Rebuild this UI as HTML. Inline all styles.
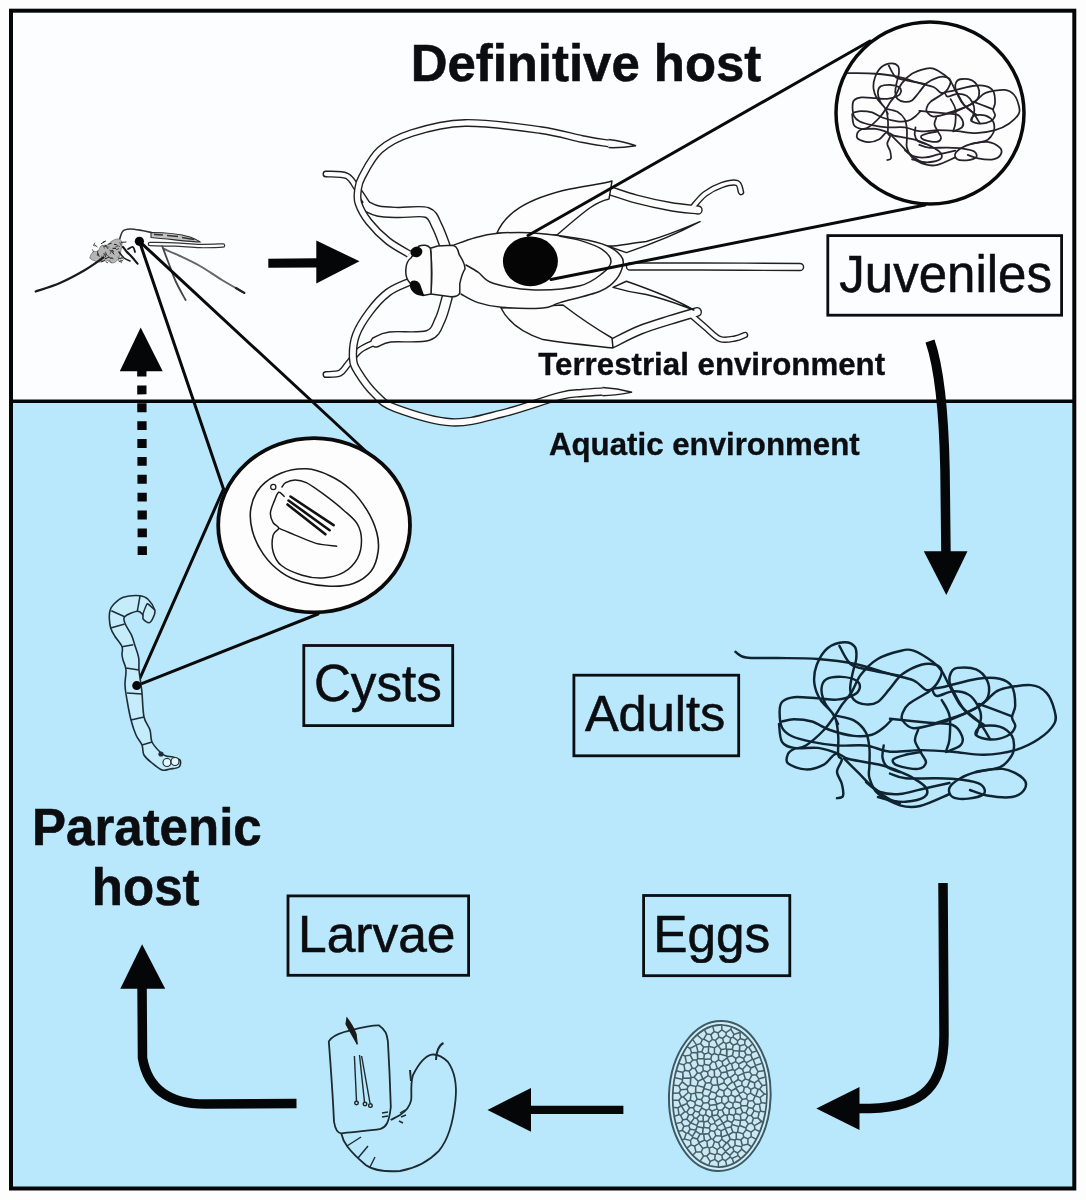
<!DOCTYPE html>
<html><head><meta charset="utf-8">
<style>
html,body{margin:0;padding:0;background:#fdfdfd;width:1086px;height:1200px;overflow:hidden}
svg{display:block}
.t{font-family:"Liberation Sans",sans-serif;fill:#0b0d10;stroke:#0b0d10;stroke-width:1.1px}
</style></head><body>
<svg width="1086" height="1200" viewBox="0 0 1086 1200">
<rect x="0" y="0" width="1086" height="1200" fill="#fdfdfd"/>
<rect x="11" y="11" width="1063" height="390" fill="#fcfdfe"/>
<rect x="11" y="401" width="1063" height="788" fill="#b9e8fc"/>

<g id="cricket"><path d="M326.0,174.0 C329.5,174.3 341.7,173.3 347.0,176.0 C352.3,178.7 354.5,185.2 358.0,190.0 C361.5,194.8 366.3,202.5 368.0,205.0" fill="none" stroke="#202020" stroke-width="7" stroke-linecap="round" stroke-linejoin="round"/><path d="M366.0,206.0 C368.0,206.8 372.7,209.9 378.0,211.0 C383.3,212.1 389.8,212.2 398.0,212.5 C406.2,212.8 420.5,210.2 427.0,212.5 C433.5,214.8 434.0,220.4 437.0,226.0 C440.0,231.6 443.7,242.7 445.0,246.0" fill="none" stroke="#202020" stroke-width="11.5" stroke-linecap="round" stroke-linejoin="round"/><path d="M447.0,298.0 C445.8,301.7 443.2,313.8 440.0,320.0 C436.8,326.2 436.3,332.7 428.0,335.5 C419.7,338.3 398.7,335.9 390.0,337.0 C381.3,338.1 378.3,341.2 376.0,342.0" fill="none" stroke="#202020" stroke-width="11.5" stroke-linecap="round" stroke-linejoin="round"/><path d="M378.0,341.0 C375.0,342.5 365.0,346.2 360.0,350.0 C355.0,353.8 351.3,360.2 348.0,364.0 C344.7,367.8 343.7,371.2 340.0,373.0 C336.3,374.8 328.3,374.2 326.0,374.5" fill="none" stroke="#202020" stroke-width="7" stroke-linecap="round" stroke-linejoin="round"/><path d="M326.0,174.0 C329.5,174.3 341.7,173.3 347.0,176.0 C352.3,178.7 354.5,185.2 358.0,190.0 C361.5,194.8 366.3,202.5 368.0,205.0" fill="none" stroke="#fdfdfd" stroke-width="4.2" stroke-linecap="round" stroke-linejoin="round"/><path d="M366.0,206.0 C368.0,206.8 372.7,209.9 378.0,211.0 C383.3,212.1 389.8,212.2 398.0,212.5 C406.2,212.8 420.5,210.2 427.0,212.5 C433.5,214.8 434.0,220.4 437.0,226.0 C440.0,231.6 443.7,242.7 445.0,246.0" fill="none" stroke="#fdfdfd" stroke-width="8.7" stroke-linecap="round" stroke-linejoin="round"/><path d="M447.0,298.0 C445.8,301.7 443.2,313.8 440.0,320.0 C436.8,326.2 436.3,332.7 428.0,335.5 C419.7,338.3 398.7,335.9 390.0,337.0 C381.3,338.1 378.3,341.2 376.0,342.0" fill="none" stroke="#fdfdfd" stroke-width="8.7" stroke-linecap="round" stroke-linejoin="round"/><path d="M378.0,341.0 C375.0,342.5 365.0,346.2 360.0,350.0 C355.0,353.8 351.3,360.2 348.0,364.0 C344.7,367.8 343.7,371.2 340.0,373.0 C336.3,374.8 328.3,374.2 326.0,374.5" fill="none" stroke="#fdfdfd" stroke-width="4.2" stroke-linecap="round" stroke-linejoin="round"/><path d="M409.0,254.0 C405.5,251.8 394.7,246.3 388.0,241.0 C381.3,235.7 373.9,228.2 369.0,222.0 C364.1,215.8 360.3,208.8 358.5,203.5 C356.7,198.2 357.4,194.4 358.0,190.0 C358.6,185.6 358.3,183.7 362.0,177.0 C365.7,170.3 371.7,157.3 380.0,150.0 C388.3,142.7 397.8,137.5 412.0,133.0 C426.2,128.5 443.7,123.5 465.0,123.0 C486.3,122.5 520.5,127.3 540.0,130.0 C559.5,132.7 570.5,136.7 582.0,139.0 C593.5,141.3 604.5,142.8 609.0,143.6" fill="none" stroke="#202020" stroke-width="8" stroke-linecap="butt" stroke-linejoin="round"/><path d="M409.0,282.0 C405.5,283.8 394.6,287.5 388.0,292.5 C381.4,297.5 374.8,304.9 369.5,312.0 C364.2,319.1 358.8,327.3 356.0,335.0 C353.2,342.7 352.7,351.8 353.0,358.0 C353.3,364.2 354.3,366.0 358.0,372.0 C361.7,378.0 368.8,388.0 375.0,394.0 C381.2,400.0 382.3,403.3 395.0,408.0 C407.7,412.7 433.6,421.4 451.4,422.3 C469.2,423.2 483.9,418.0 502.0,413.6 C520.1,409.2 546.7,399.4 560.0,396.0 C573.3,392.6 574.8,393.7 582.0,393.0 C589.2,392.3 599.5,391.8 603.0,391.6" fill="none" stroke="#202020" stroke-width="8.5" stroke-linecap="butt" stroke-linejoin="round"/><path d="M409.0,254.0 C405.5,251.8 394.7,246.3 388.0,241.0 C381.3,235.7 373.9,228.2 369.0,222.0 C364.1,215.8 360.3,208.8 358.5,203.5 C356.7,198.2 357.4,194.4 358.0,190.0 C358.6,185.6 358.3,183.7 362.0,177.0 C365.7,170.3 371.7,157.3 380.0,150.0 C388.3,142.7 397.8,137.5 412.0,133.0 C426.2,128.5 443.7,123.5 465.0,123.0 C486.3,122.5 520.5,127.3 540.0,130.0 C559.5,132.7 570.5,136.7 582.0,139.0 C593.5,141.3 604.5,142.8 609.0,143.6" fill="none" stroke="#fdfdfd" stroke-width="5.2" stroke-linecap="butt" stroke-linejoin="round"/><path d="M409.0,282.0 C405.5,283.8 394.6,287.5 388.0,292.5 C381.4,297.5 374.8,304.9 369.5,312.0 C364.2,319.1 358.8,327.3 356.0,335.0 C353.2,342.7 352.7,351.8 353.0,358.0 C353.3,364.2 354.3,366.0 358.0,372.0 C361.7,378.0 368.8,388.0 375.0,394.0 C381.2,400.0 382.3,403.3 395.0,408.0 C407.7,412.7 433.6,421.4 451.4,422.3 C469.2,423.2 483.9,418.0 502.0,413.6 C520.1,409.2 546.7,399.4 560.0,396.0 C573.3,392.6 574.8,393.7 582.0,393.0 C589.2,392.3 599.5,391.8 603.0,391.6" fill="none" stroke="#fdfdfd" stroke-width="5.7" stroke-linecap="butt" stroke-linejoin="round"/><path d="M608.5,139.6 C620,141 628,143 636,145.8 C628,147 620,148 608.5,147.6" fill="#fdfdfd" stroke="#202020" stroke-width="1.5"/><path d="M602.5,387.4 C615,388 624,390 632,392.2 C622,394 614,395.5 602.5,395.8" fill="#fdfdfd" stroke="#202020" stroke-width="1.5"/><path d="M630.0,266.5 C641.7,266.5 671.7,266.4 700.0,266.5 C728.3,266.6 783.3,266.9 800.0,267.0" fill="none" stroke="#202020" stroke-width="8.5" stroke-linecap="round" stroke-linejoin="round"/><path d="M611.0,191.0 C615.2,192.3 626.2,196.4 636.0,199.0 C645.8,201.6 659.7,204.7 670.0,206.5 C680.3,208.3 693.3,209.4 698.0,210.0" fill="none" stroke="#202020" stroke-width="9.5" stroke-linecap="round" stroke-linejoin="round"/><path d="M692.0,208.0 C694.2,205.7 700.0,197.8 705.0,194.0 C710.0,190.2 716.7,186.8 722.0,185.0 C727.3,183.2 733.8,181.8 737.0,183.0 C740.2,184.2 740.3,190.5 741.0,192.0" fill="none" stroke="#202020" stroke-width="6.5" stroke-linecap="round" stroke-linejoin="round"/><path d="M613.0,343.0 C617.5,340.8 630.5,333.8 640.0,330.0 C649.5,326.2 660.5,323.0 670.0,320.0 C679.5,317.0 692.5,313.3 697.0,312.0" fill="none" stroke="#202020" stroke-width="10" stroke-linecap="round" stroke-linejoin="round"/><path d="M690.0,314.0 C692.5,316.2 700.0,322.8 705.0,327.0 C710.0,331.2 715.0,337.1 720.0,339.0 C725.0,340.9 730.8,339.2 735.0,338.5 C739.2,337.8 743.3,335.6 745.0,335.0" fill="none" stroke="#202020" stroke-width="6.5" stroke-linecap="round" stroke-linejoin="round"/><path d="M630.0,266.5 C641.7,266.5 671.7,266.4 700.0,266.5 C728.3,266.6 783.3,266.9 800.0,267.0" fill="none" stroke="#fdfdfd" stroke-width="5.7" stroke-linecap="round" stroke-linejoin="round"/><path d="M611.0,191.0 C615.2,192.3 626.2,196.4 636.0,199.0 C645.8,201.6 659.7,204.7 670.0,206.5 C680.3,208.3 693.3,209.4 698.0,210.0" fill="none" stroke="#fdfdfd" stroke-width="6.7" stroke-linecap="round" stroke-linejoin="round"/><path d="M692.0,208.0 C694.2,205.7 700.0,197.8 705.0,194.0 C710.0,190.2 716.7,186.8 722.0,185.0 C727.3,183.2 733.8,181.8 737.0,183.0 C740.2,184.2 740.3,190.5 741.0,192.0" fill="none" stroke="#fdfdfd" stroke-width="3.7" stroke-linecap="round" stroke-linejoin="round"/><path d="M613.0,343.0 C617.5,340.8 630.5,333.8 640.0,330.0 C649.5,326.2 660.5,323.0 670.0,320.0 C679.5,317.0 692.5,313.3 697.0,312.0" fill="none" stroke="#fdfdfd" stroke-width="7.2" stroke-linecap="round" stroke-linejoin="round"/><path d="M690.0,314.0 C692.5,316.2 700.0,322.8 705.0,327.0 C710.0,331.2 715.0,337.1 720.0,339.0 C725.0,340.9 730.8,339.2 735.0,338.5 C739.2,337.8 743.3,335.6 745.0,335.0" fill="none" stroke="#fdfdfd" stroke-width="3.7" stroke-linecap="round" stroke-linejoin="round"/><path d="M607.6,246 C615,247 630,243 646.3,241.5 C665,236 685,228 700,221.6 C690,227 670,238 626.4,252.6 Z" fill="#fdfdfd" stroke="#1c1c1c" stroke-width="1.5" stroke-linejoin="round"/><path d="M613,287.4 C625,291 635,293 646.3,294.6 C665,299 680,305 693.8,310 C680,302 660,293 626.4,281.3 Z" fill="#fdfdfd" stroke="#1c1c1c" stroke-width="1.5" stroke-linejoin="round"/><path d="M497,233 C505,214 525,199 570,189 C590,185 602,184 612,181 L609,199 C596,202 588,208 557,235 Z" fill="#fdfdfd" stroke="#1c1c1c" stroke-width="1.5" stroke-linejoin="round"/><path d="M501,308 C508,322 520,332 543,339.6 C570,344 595,346 613,348 L612,338 C600,331 580,318 563,305 Z" fill="#fdfdfd" stroke="#1c1c1c" stroke-width="1.5" stroke-linejoin="round"/><path d="M454.0,245.0 C457.5,243.8 468.0,239.6 475.0,237.7 C482.0,235.8 486.8,234.3 496.0,233.5 C505.2,232.7 516.5,231.9 530.5,232.8 C544.5,233.7 567.1,236.6 580.0,238.8 C592.9,241.0 600.8,243.2 607.6,246.0 C614.4,248.8 618.4,252.8 621.0,255.9 C623.6,259.0 623.8,260.8 623.0,264.7 C622.2,268.6 620.3,274.6 616.5,279.0 C612.7,283.4 609.4,287.3 600.0,291.2 C590.6,295.1 569.5,299.8 560.0,302.6 C550.5,305.4 552.7,307.2 542.9,308.0 C533.1,308.8 512.2,308.2 501.4,307.3 C490.6,306.4 484.7,304.8 478.0,302.6 C471.3,300.4 463.8,295.4 461.0,294.0" fill="#fdfdfd" stroke="#202020" stroke-width="1.5" stroke-linecap="round" stroke-linejoin="round" /><path d="M466.0,265.0 C468.0,266.2 473.5,269.1 478.0,272.2 C482.5,275.2 483.6,280.4 493.0,283.3 C502.4,286.2 520.1,289.5 534.6,289.9 C549.1,290.3 568.8,288.4 580.0,285.7 C591.2,283.0 596.8,277.7 602.0,273.6 C607.2,269.6 611.0,265.4 611.0,261.4 C611.0,257.3 607.2,252.8 602.0,249.3 C596.8,245.8 587.0,242.6 580.0,240.4 C573.0,238.2 563.3,237.0 560.0,236.3" fill="none" stroke="#202020" stroke-width="1.5" stroke-linecap="round" stroke-linejoin="round" /><path d="M430.4,248.2 L437.7,246 L452.5,245.3 C455,246 457.6,246.7 459,254.1 C461,258 465,263 465,268.8 C463,272 461.3,276.2 459.8,283.6 L459.8,293.1 C459,295 457.6,296.8 451,296.8 L431,294 C432,280 432,262 430.4,248.2 Z" fill="#fdfdfd" stroke="#202020" stroke-width="1.5" stroke-linejoin="round"/><path d="M411,258 L419,246 C423,244.5 428,245 430.4,248.2 C432,262 431.5,280 431,294 L423,295.4 L410,283 C406,279 405.5,272 406,268 C406.5,263 408,260 411,258 Z" fill="#fdfdfd" stroke="#202020" stroke-width="1.5" stroke-linejoin="round"/><ellipse cx="416.4" cy="251.9" rx="6" ry="5.3" transform="rotate(-20 416.4 251.9)" fill="#0a0a0a"/><path d="M409.8,285 C409.5,279.5 417,279 420,284 C422,289 423,293 424.5,296 C418,296.5 410,292.5 409.8,285 Z" fill="#0a0a0a"/></g>
<g id="mosquito"><path d="M90.0,258.0 C89.7,256.5 91.7,253.2 93.0,252.0 C94.3,250.8 96.7,252.0 98.0,251.0 C99.3,250.0 99.5,247.0 101.0,246.0 C102.5,245.0 105.2,245.8 107.0,245.0 C108.8,244.2 110.2,242.0 112.0,241.0 C113.8,240.0 116.3,238.8 118.0,239.0 C119.7,239.2 121.5,240.2 122.0,242.0 C122.5,243.8 121.5,247.3 121.0,250.0 C120.5,252.7 120.3,255.8 119.0,258.0 C117.7,260.2 115.2,262.7 113.0,263.0 C110.8,263.3 108.2,260.2 106.0,260.0 C103.8,259.8 101.8,261.8 100.0,262.0 C98.2,262.2 96.7,261.7 95.0,261.0 C93.3,260.3 90.3,259.5 90.0,258.0Z" fill="#b5b5b5" stroke="#777" stroke-width="0.8" stroke-linecap="round" stroke-linejoin="round" /><line x1="105.1" y1="253.2" x2="103.5" y2="256.8" stroke="#444" stroke-width="1"/><line x1="97.4" y1="252.2" x2="99.3" y2="256.7" stroke="#222" stroke-width="1"/><line x1="105.0" y1="244.8" x2="108.1" y2="248.9" stroke="#222" stroke-width="1"/><line x1="109.3" y1="249.9" x2="113.0" y2="252.8" stroke="#444" stroke-width="1"/><line x1="110.1" y1="258.6" x2="112.4" y2="257.6" stroke="#444" stroke-width="1"/><line x1="109.4" y1="257.6" x2="113.5" y2="258.9" stroke="#444" stroke-width="1"/><line x1="107.1" y1="254.8" x2="110.2" y2="258.0" stroke="#555" stroke-width="1"/><line x1="111.0" y1="250.1" x2="114.1" y2="254.4" stroke="#222" stroke-width="1"/><line x1="112.5" y1="248.3" x2="115.9" y2="248.5" stroke="#222" stroke-width="1"/><line x1="108.3" y1="244.2" x2="111.6" y2="243.2" stroke="#222" stroke-width="1"/><line x1="119.8" y1="258.9" x2="122.4" y2="257.2" stroke="#222" stroke-width="1"/><line x1="105.6" y1="261.6" x2="108.0" y2="262.9" stroke="#444" stroke-width="1"/><line x1="114.6" y1="247.4" x2="117.9" y2="246.2" stroke="#555" stroke-width="1"/><line x1="114.0" y1="244.4" x2="116.8" y2="244.6" stroke="#222" stroke-width="1"/><line x1="105.5" y1="251.7" x2="106.3" y2="254.7" stroke="#444" stroke-width="1"/><line x1="120.6" y1="257.4" x2="123.6" y2="259.4" stroke="#555" stroke-width="1"/><line x1="104.2" y1="246.3" x2="109.5" y2="247.1" stroke="#666" stroke-width="1"/><line x1="120.9" y1="242.4" x2="126.4" y2="242.0" stroke="#222" stroke-width="1"/><line x1="93.2" y1="244.9" x2="95.3" y2="246.4" stroke="#666" stroke-width="1"/><line x1="116.1" y1="249.7" x2="119.0" y2="248.5" stroke="#444" stroke-width="1"/><line x1="92.4" y1="249.4" x2="93.6" y2="252.0" stroke="#555" stroke-width="1"/><line x1="116.1" y1="244.7" x2="120.0" y2="246.7" stroke="#666" stroke-width="1"/><line x1="118.3" y1="258.4" x2="121.4" y2="258.7" stroke="#444" stroke-width="1"/><line x1="111.9" y1="249.8" x2="113.9" y2="251.6" stroke="#222" stroke-width="1"/><line x1="95.0" y1="242.8" x2="93.4" y2="245.6" stroke="#555" stroke-width="1"/><line x1="99.5" y1="258.5" x2="101.1" y2="261.4" stroke="#444" stroke-width="1"/><line x1="118.9" y1="261.5" x2="122.8" y2="260.6" stroke="#222" stroke-width="1"/><line x1="100.1" y1="260.3" x2="102.7" y2="260.3" stroke="#666" stroke-width="1"/><line x1="103.9" y1="247.0" x2="106.9" y2="245.5" stroke="#444" stroke-width="1"/><line x1="94.7" y1="244.8" x2="97.4" y2="246.9" stroke="#444" stroke-width="1"/><line x1="109.1" y1="260.5" x2="111.8" y2="262.9" stroke="#666" stroke-width="1"/><line x1="119.9" y1="242.4" x2="121.4" y2="246.1" stroke="#666" stroke-width="1"/><line x1="101.2" y1="262.0" x2="105.1" y2="260.4" stroke="#222" stroke-width="1"/><line x1="118.1" y1="256.7" x2="119.1" y2="261.5" stroke="#666" stroke-width="1"/><line x1="102.2" y1="255.7" x2="100.4" y2="260.5" stroke="#555" stroke-width="1"/><line x1="119.4" y1="242.6" x2="121.2" y2="244.4" stroke="#555" stroke-width="1"/><line x1="103.0" y1="242.2" x2="105.6" y2="241.2" stroke="#222" stroke-width="1"/><line x1="120.8" y1="259.6" x2="121.3" y2="263.2" stroke="#555" stroke-width="1"/><line x1="104.8" y1="258.8" x2="109.2" y2="257.1" stroke="#222" stroke-width="1"/><line x1="101.0" y1="243.8" x2="105.6" y2="241.0" stroke="#222" stroke-width="1"/><line x1="106.4" y1="254.3" x2="105.1" y2="257.3" stroke="#222" stroke-width="1"/><line x1="102.7" y1="244.9" x2="104.5" y2="248.5" stroke="#666" stroke-width="1"/><line x1="111.1" y1="250.8" x2="110.0" y2="254.1" stroke="#666" stroke-width="1"/><line x1="97.8" y1="250.6" x2="97.3" y2="255.8" stroke="#444" stroke-width="1"/><line x1="103.1" y1="253.7" x2="105.9" y2="254.5" stroke="#555" stroke-width="1"/><path d="M35.6,291.5 C39.7,290.1 51.8,286.6 60.0,283.0 C68.2,279.4 77.8,274.2 85.0,270.0 C92.2,265.8 100.3,259.7 103.4,257.6" fill="none" stroke="#1a1a1a" stroke-width="2.2" stroke-linecap="round" stroke-linejoin="round" /><path d="M119.8,238.6 C120.3,237.3 121.3,232.6 123.0,231.0 C124.7,229.4 126.8,229.1 130.0,229.0 C133.2,228.9 138.3,229.9 142.0,230.5 C145.7,231.1 150.3,232.3 152.0,232.7" fill="none" stroke="#333" stroke-width="1.6" stroke-linecap="round" stroke-linejoin="round" /><path d="M151,232.5 C165,232.5 180,234 190,237 C195,239 198,240 200,242 C190,242 170,239 151,237.5 Z" fill="#c4c4c4" stroke="#2a2a2a" stroke-width="1.1"/><path d="M154,234.5 L163,235 M167,235.5 L178,236.5 M182,237.5 L194,239.5" stroke="#333" stroke-width="1.6"/><path d="M150.0,244.0 C154.2,244.1 166.7,244.2 175.0,244.5 C183.3,244.8 192.0,245.8 200.0,246.0 C208.0,246.2 219.2,245.6 223.0,245.5" fill="none" stroke="#333" stroke-width="4.6" stroke-linecap="round" stroke-linejoin="round"/><path d="M150.0,244.0 C154.2,244.1 166.7,244.2 175.0,244.5 C183.3,244.8 192.0,245.8 200.0,246.0 C208.0,246.2 219.2,245.6 223.0,245.5" fill="none" stroke="#fdfdfd" stroke-width="2.2" stroke-linecap="round" stroke-linejoin="round"/><path d="M164.0,249.0 C166.7,250.2 174.0,253.2 180.0,256.0 C186.0,258.8 193.0,262.0 200.0,266.0 C207.0,270.0 214.6,275.5 222.0,280.0 C229.4,284.5 240.6,290.8 244.3,292.9" fill="none" stroke="#666" stroke-width="2" stroke-linecap="round" stroke-linejoin="round" /><path d="M236.0,288.0 C237.4,288.8 242.9,292.1 244.3,292.9" fill="none" stroke="#222" stroke-width="2.2" stroke-linecap="round" stroke-linejoin="round" /><path d="M162.3,246.3 C163.3,249.0 166.1,256.6 168.4,262.5 C170.7,268.4 173.1,275.8 176.0,282.0 C178.9,288.2 184.0,297.0 185.6,300.0" fill="none" stroke="#444" stroke-width="1.8" stroke-linecap="round" stroke-linejoin="round" /><path d="M123.0,247.0 C123.7,247.8 125.7,250.5 127.0,252.0 C128.3,253.5 129.2,254.1 131.0,256.0 C132.8,257.9 136.4,262.3 137.5,263.6" fill="none" stroke="#151515" stroke-width="2.2" stroke-linecap="round" stroke-linejoin="round" /><path d="M128.0,249.0 C128.8,248.7 131.8,246.5 133.0,247.0 C134.2,247.5 134.7,251.2 135.0,252.0" fill="none" stroke="#151515" stroke-width="1.8" stroke-linecap="round" stroke-linejoin="round" /><path d="M119.0,252.0 C119.8,253.0 122.2,256.5 124.0,258.0 C125.8,259.5 129.0,260.5 130.0,261.0" fill="none" stroke="#222" stroke-width="1.6" stroke-linecap="round" stroke-linejoin="round" /></g>
<defs><g id="tangle"><path d="M735.5,651.9 C737.2,652.8 739.1,656.5 746.0,657.5 C752.9,658.5 765.0,657.8 777.0,658.0 C789.0,658.2 805.2,658.0 818.0,659.0 C830.8,660.0 842.0,661.2 854.0,663.7 C866.0,666.2 880.1,671.3 890.0,674.1 C899.9,676.9 907.5,677.8 913.5,680.4 C919.5,683.0 922.4,688.5 926.0,689.8 C929.6,691.1 932.3,688.7 935.4,688.2 C938.5,687.7 937.8,688.3 944.8,686.7 C951.8,685.1 968.6,680.1 977.7,678.8 C986.8,677.5 993.9,677.5 999.6,678.8 C1005.3,680.1 1009.4,682.3 1012.0,686.7 C1014.6,691.1 1015.2,700.3 1015.2,705.4 C1015.2,710.5 1012.0,713.7 1012.0,717.2 C1012.0,720.7 1016.0,723.5 1015.2,726.6 C1014.4,729.7 1011.2,733.9 1007.0,736.0 C1002.8,738.1 995.2,739.7 990.0,739.5 C984.8,739.3 977.5,737.1 976.0,735.0 C974.5,732.9 976.9,728.0 980.8,726.6 C984.7,725.2 994.4,725.0 999.6,726.6 C1004.8,728.2 1009.6,732.1 1012.0,736.0 C1014.4,739.9 1014.2,746.2 1013.7,750.1 C1013.2,754.0 1011.4,756.6 1009.0,759.5 C1006.6,762.4 1005.1,765.2 999.6,767.3 C994.1,769.4 982.6,770.2 976.1,772.0 C969.6,773.8 964.8,775.7 960.4,778.3 C956.0,780.9 950.8,784.6 949.5,787.7 C948.2,790.8 949.5,795.2 952.6,797.0 C955.7,798.8 963.1,799.1 968.3,798.6 C973.5,798.1 981.8,796.2 983.9,793.9 C986.0,791.5 984.4,786.9 980.8,784.5 C977.1,782.1 969.3,780.8 962.0,779.8 C954.7,778.8 946.4,778.5 937.0,778.3 C927.6,778.0 913.4,779.1 905.6,778.3 C897.8,777.5 892.6,774.4 890.0,773.6"/><path d="M837.0,798.2 C838.0,797.8 842.2,798.2 843.0,795.8 C843.8,793.4 842.8,787.8 841.8,783.8 C840.8,779.8 837.0,775.8 837.0,771.8 C837.0,767.8 841.6,762.7 841.8,759.9 C842.0,757.1 838.8,759.0 838.2,755.0 C837.6,751.0 838.8,742.3 838.2,735.9 C837.6,729.5 837.6,722.4 834.6,716.4 C831.6,710.4 823.7,705.2 820.3,699.6 C816.9,694.0 814.9,688.7 814.3,682.9 C813.7,677.1 814.5,670.8 816.7,665.0 C818.9,659.2 822.9,652.0 827.5,648.2 C832.1,644.4 839.6,642.4 844.2,642.2 C848.8,642.0 853.0,644.2 855.0,647.0 C857.0,649.8 856.6,654.6 856.2,659.0 C855.8,663.4 853.6,668.3 852.6,673.3 C851.6,678.3 850.0,684.5 850.2,688.9 C850.4,693.3 851.2,697.0 853.8,699.6 C856.4,702.2 861.8,704.0 865.8,704.4 C869.8,704.8 873.7,704.6 877.7,702.0 C881.7,699.4 885.6,693.5 889.7,688.9 C893.8,684.2 897.2,678.1 902.5,674.1 C907.8,670.1 915.8,666.3 921.3,664.7 C926.8,663.1 932.0,663.7 935.4,664.7 C938.8,665.8 941.4,667.9 941.7,671.0 C942.0,674.1 939.1,680.1 937.0,683.5 C934.9,686.9 933.7,688.0 929.0,691.4 C924.3,694.8 913.2,700.2 908.8,703.9 C904.4,707.5 903.5,710.5 902.5,713.3 C901.5,716.0 900.7,717.9 902.5,720.4 C904.3,722.9 907.8,727.7 913.5,728.2 C919.2,728.7 930.5,725.1 937.0,723.5 C943.5,721.9 946.1,721.4 952.6,718.8 C959.1,716.2 970.4,710.9 976.1,707.8 C981.8,704.7 983.1,703.0 987.0,700.0 C990.9,697.0 992.3,692.3 999.6,689.8 C1006.9,687.3 1023.1,684.6 1030.9,685.1 C1038.7,685.6 1042.6,688.7 1046.5,692.9 C1050.4,697.1 1053.1,705.0 1054.4,710.1 C1055.7,715.2 1057.0,718.7 1054.4,723.5 C1051.8,728.3 1045.2,734.7 1038.7,739.1 C1032.2,743.5 1024.3,747.5 1015.2,750.1 C1006.1,752.7 994.3,754.5 983.9,754.8 C973.5,755.1 963.0,752.5 952.6,751.7 C942.2,750.9 931.7,750.1 921.3,750.1 C910.9,750.1 899.2,752.5 890.0,751.7 C880.8,750.9 874.6,746.5 865.8,745.5 C857.0,744.5 846.0,746.1 837.0,745.5 C828.0,744.9 819.5,743.5 811.9,741.9 C804.3,740.3 796.5,738.4 791.5,736.0 C786.5,733.6 784.0,731.5 782.0,727.5 C780.0,723.5 779.6,716.2 779.6,712.0 C779.6,707.8 779.6,704.5 782.0,702.0 C784.4,699.5 788.0,697.8 794.0,697.2 C800.0,696.6 810.7,698.0 817.9,698.4 C825.1,698.8 831.0,700.2 837.0,699.6 C843.0,699.0 850.0,696.9 853.8,694.9 C857.6,692.9 859.4,690.1 859.8,687.7 C860.2,685.3 859.2,682.3 856.2,680.5 C853.2,678.7 846.8,677.1 841.8,676.9 C836.8,676.7 829.7,677.3 826.3,679.3 C822.9,681.3 821.7,684.9 821.5,688.9 C821.3,692.9 823.1,698.8 825.0,703.0 C826.9,707.2 830.8,710.5 833.0,714.0 C835.2,717.5 837.2,722.3 838.0,724.0"/><path d="M984.0,725.0 C981.9,723.6 975.3,719.7 971.4,716.4 C967.5,713.1 964.1,710.6 960.4,705.4 C956.7,700.2 952.1,690.7 949.0,685.0 C945.9,679.3 944.5,674.9 941.7,671.0 C938.9,667.1 937.0,665.0 932.3,661.6 C927.6,658.2 918.9,652.5 913.5,650.7 C908.1,648.9 906.0,649.6 900.0,651.0 C894.0,652.4 884.2,655.1 877.7,659.0 C871.2,662.9 865.4,668.9 861.0,674.5 C856.6,680.1 854.6,687.4 851.4,692.5 C848.2,697.6 844.4,701.4 841.8,705.0 C839.2,708.6 838.8,710.2 835.8,714.4 C832.8,718.6 828.9,724.8 823.9,730.0 C818.9,735.2 810.9,742.3 805.9,745.5 C800.9,748.7 797.0,747.6 794.0,749.0 C791.0,750.4 789.0,751.5 788.0,753.9 C787.0,756.3 785.0,760.8 788.0,763.4 C791.0,766.0 799.9,769.2 805.9,769.4 C811.9,769.6 818.9,767.2 823.9,764.6 C828.9,762.0 831.8,754.9 835.8,753.9 C839.8,752.9 842.8,757.3 847.8,758.7 C852.8,760.1 859.8,761.0 865.8,762.2 C871.8,763.4 878.0,764.2 883.7,765.8 C889.4,767.4 895.0,769.7 900.0,771.8 C905.0,773.9 909.2,775.6 913.5,778.3 C917.8,780.9 924.2,784.6 926.0,787.7 C927.8,790.8 927.8,794.6 924.4,797.0 C921.0,799.4 911.3,801.3 905.6,801.8 C899.9,802.3 894.6,801.0 890.0,800.2 C885.4,799.4 880.0,797.5 878.0,797.0"/><path d="M779.0,724.0 C779.5,727.0 779.5,737.9 782.0,741.9 C784.5,745.9 788.0,746.9 794.0,747.9 C800.0,748.9 810.9,747.1 817.9,747.9 C824.9,748.7 832.8,751.9 835.8,752.7"/><path d="M782.0,721.5 C784.0,721.1 789.0,719.2 794.0,719.2 C799.0,719.2 805.9,719.7 811.9,721.5 C817.9,723.3 822.9,727.6 829.9,730.0 C836.9,732.4 846.8,735.1 853.8,735.9 C860.8,736.7 866.8,736.1 871.8,734.7 C876.8,733.3 880.3,730.1 883.7,727.5 C887.1,724.9 890.7,720.6 892.1,719.2"/><path d="M835.8,715.6 C838.8,716.4 848.8,717.6 853.8,720.4 C858.8,723.2 863.2,727.7 865.8,732.3 C868.4,736.9 868.8,742.3 869.4,747.9 C870.0,753.5 869.4,760.8 869.4,765.8 C869.4,770.8 868.0,773.2 869.4,777.8 C870.8,782.4 872.6,788.8 877.7,793.4 C882.8,798.0 893.0,803.2 900.0,805.3 C907.0,807.4 911.8,807.9 920.0,806.0 C928.2,804.1 944.6,796.0 949.5,794.0"/><path d="M844.2,758.7 C846.8,761.3 855.2,769.6 859.8,774.2 C864.4,778.8 866.8,782.0 871.8,786.2 C876.8,790.4 885.0,796.6 889.7,799.4 C894.4,802.2 898.3,802.4 900.0,803.0"/><path d="M976.1,772.0 C980.5,771.5 994.9,767.9 1002.7,768.9 C1010.5,769.9 1019.4,774.9 1023.0,778.3 C1026.7,781.7 1026.4,786.1 1024.6,789.2 C1022.8,792.3 1018.3,796.0 1012.0,797.0 C1005.7,798.0 994.0,796.7 987.0,795.5 C980.0,794.3 972.8,790.9 970.0,790.0"/><path d="M937.0,722.7 C941.7,721.1 957.5,716.4 965.1,713.3 C972.7,710.2 978.5,707.0 982.4,703.9 C986.3,700.8 987.8,698.4 988.6,694.5 C989.4,690.6 989.2,684.6 987.1,680.4 C985.0,676.2 981.1,671.5 976.1,669.4 C971.1,667.3 961.5,667.4 957.3,667.9 C953.1,668.4 952.3,670.2 951.0,672.6 C949.7,675.0 949.0,678.6 949.5,682.0 C950.0,685.4 951.9,688.5 954.2,692.9 C956.6,697.3 959.5,703.8 963.6,708.6 C967.7,713.5 974.6,716.9 979.0,722.0 C983.4,727.1 988.2,736.2 990.0,739.0"/><path d="M932.3,689.8 C933.1,690.8 933.6,695.7 937.0,696.0 C940.4,696.3 947.4,691.6 952.6,691.4 C957.8,691.1 964.1,692.2 968.3,694.5 C972.5,696.8 975.6,701.5 977.7,705.4 C979.8,709.3 981.3,713.1 981.0,718.0 C980.7,722.9 976.8,732.2 976.0,735.0"/><path d="M890.0,718.8 C896.5,719.4 918.7,721.7 929.1,722.7 C939.5,723.7 947.1,722.8 952.6,725.0 C958.1,727.2 960.7,732.6 962.0,736.0 C963.3,739.4 963.1,742.7 960.4,745.4 C957.7,748.1 948.4,750.9 946.0,752.0"/><path d="M941.7,700.0 C943.0,702.6 948.2,709.2 949.5,715.7 C950.8,722.2 950.0,733.4 949.5,739.1 C949.0,744.8 946.9,748.3 946.4,750.1"/><path d="M918.2,729.7 C917.7,731.5 914.5,736.8 915.0,740.7 C915.5,744.6 919.5,749.6 921.3,753.2 C923.1,756.9 926.5,760.0 926.0,762.6 C925.5,765.2 922.9,768.4 918.2,768.9 C913.5,769.4 902.0,767.3 897.8,765.7 C893.6,764.1 891.8,761.3 893.1,759.5 C894.4,757.7 901.0,756.0 905.6,754.8 C910.2,753.5 918.4,752.5 921.0,752.0"/><path d="M866.0,782.0 C868.3,783.7 874.3,790.0 880.0,792.0 C885.7,794.0 893.1,794.5 900.0,794.0 C906.9,793.5 913.0,791.0 921.3,789.2 C929.5,787.4 944.8,784.0 949.5,783.0"/><path d="M883.7,745.5 C883.5,747.5 881.9,753.9 882.5,757.5 C883.1,761.1 884.4,764.6 887.3,767.0 C890.2,769.4 897.9,771.2 900.0,772.0"/><path d="M979.0,704.0 C982.4,705.3 994.1,709.6 999.6,711.7 C1005.1,713.8 1009.9,715.6 1012.0,716.4"/><path d="M839.4,645.8 C840.6,648.0 844.2,655.6 846.6,659.0 C849.0,662.4 849.1,664.1 853.8,666.1 C858.5,668.1 867.3,669.4 875.0,671.0 C882.7,672.6 895.8,674.9 900.0,675.7"/></g></defs>
<use href="#tangle" fill="none" stroke="#0f2430" stroke-width="2.45" stroke-linecap="round"/>
<rect x="11" y="10.7" width="1063.3" height="1177.8" fill="none" stroke="#050608" stroke-width="4"/>
<line x1="11" y1="401.2" x2="1074" y2="401.2" stroke="#050608" stroke-width="3.5"/>
<g stroke="#0a0a0a" stroke-width="3" fill="none" stroke-linecap="round">
<line x1="528" y1="235.5" x2="870" y2="41"/>
<line x1="551" y1="279.5" x2="925" y2="205"/>
<line x1="139.4" y1="241.3" x2="223.5" y2="489"/>
<line x1="139.4" y1="241.3" x2="372" y2="457"/>
<line x1="136.7" y1="685.6" x2="223.5" y2="489"/>
<line x1="136.7" y1="685.6" x2="318" y2="614"/>
</g>
<ellipse cx="930" cy="113" rx="94" ry="91" fill="#fdfdfd" stroke="#0a0a0a" stroke-width="3.5"/>
<clipPath id="jclip"><rect x="847" y="30" width="200" height="170"/></clipPath>
<g clip-path="url(#jclip)"><g transform="translate(380.87,-334.85) scale(0.605,0.62)"><use href="#tangle" fill="none" stroke="#26222a" stroke-width="2.9" stroke-linecap="round"/></g></g>
<ellipse cx="314.1" cy="525.2" rx="95.9" ry="87.1" fill="#fdfdfd" stroke="#0a0a0a" stroke-width="3.8"/>
<g id="cyst"><path d="M251.0,507.5 C252.4,500.1 255.6,492.6 260.7,486.8 C265.8,481.1 273.8,476.0 281.4,473.0 C289.0,470.0 298.2,468.4 306.3,468.8 C314.4,469.2 322.4,472.2 329.8,475.7 C337.2,479.1 344.3,483.8 350.5,489.5 C356.7,495.2 362.6,503.1 367.0,510.2 C371.4,517.3 374.8,525.4 376.7,532.3 C378.6,539.2 379.0,545.2 378.1,551.7 C377.2,558.2 375.3,565.7 371.2,571.0 C367.1,576.3 360.2,581.0 353.3,583.5 C346.4,586.0 338.3,586.5 329.8,586.2 C321.3,586.0 310.3,584.3 302.2,582.0 C294.1,579.7 287.8,577.0 281.4,572.4 C274.9,567.8 268.3,561.3 263.5,554.4 C258.7,547.5 254.5,538.8 252.4,531.0 C250.3,523.2 249.6,514.9 251.0,507.5Z" fill="none" stroke="#1a1a1a" stroke-width="1.6" stroke-linecap="round" stroke-linejoin="round" /><path d="M284.2,496.4 C283.3,495.7 280.3,491.6 278.7,492.3 C277.1,493.0 275.9,497.2 274.5,500.6 C273.1,504.1 270.6,509.3 270.4,513.0 C270.2,516.7 271.7,520.2 273.1,522.7 C274.5,525.2 278.7,526.1 278.7,528.2 C278.7,530.3 274.0,531.2 273.1,535.1 C272.2,539.0 271.7,546.6 273.1,551.7 C274.5,556.8 276.5,561.6 281.4,565.5 C286.2,569.4 295.3,573.1 302.2,575.2 C309.1,577.3 316.0,578.5 322.9,578.0 C329.8,577.5 337.9,575.6 343.6,572.4 C349.4,569.2 354.4,563.9 357.4,558.6 C360.4,553.3 361.5,546.4 361.5,540.6 C361.5,534.9 360.4,529.2 357.4,524.1 C354.4,519.0 349.4,515.3 343.6,510.2 C337.9,505.1 329.1,498.3 322.9,493.7 C316.7,489.1 310.9,484.9 306.3,482.6 C301.7,480.3 298.6,479.9 295.2,479.9 C291.8,479.9 287.8,481.4 285.6,482.6 C283.4,483.8 282.6,486.3 282.0,487.0" fill="none" stroke="#1a1a1a" stroke-width="1.5" stroke-linecap="round" stroke-linejoin="round" /><path d="M278.7,528.2 C281.4,529.4 289.0,532.6 295.2,535.1 C301.4,537.6 309.1,541.5 316.0,543.4 C322.9,545.2 333.2,545.7 336.7,546.2" fill="none" stroke="#1a1a1a" stroke-width="1.4" stroke-linecap="round" stroke-linejoin="round" /><circle cx="273.3" cy="487" r="2.6" fill="none" stroke="#1a1a1a" stroke-width="1.2"/><g stroke="#111" stroke-width="2.6" stroke-linecap="round"><line x1="290.5" y1="496.5" x2="333.6" y2="525.2"/><line x1="288.5" y1="500.5" x2="329.6" y2="530.2"/><line x1="287.5" y1="504.5" x2="325.4" y2="534.3"/></g></g>
<ellipse cx="530.4" cy="261.3" rx="27.5" ry="24.9" fill="#050505"/>
<circle cx="139.4" cy="241.3" r="4.6" fill="#050505"/>
<g id="chiro"><path d="M149.3,622.7 C147.6,623.0 144.4,620.6 143.3,619.3 C142.2,618.0 143.7,616.0 142.7,614.7 C141.7,613.4 140.3,611.0 137.3,611.3 C134.3,611.6 126.7,614.6 124.7,616.7 C122.7,618.8 124.2,621.0 125.3,624.0 C126.4,627.0 129.7,631.2 131.3,634.7 C132.9,638.2 133.5,640.8 134.7,644.7 C135.9,648.6 138.0,653.8 138.7,658.0 C139.4,662.2 138.6,665.5 139.0,670.0 C139.4,674.5 140.5,681.2 141.0,685.0 C141.5,688.8 141.5,687.7 142.0,693.0 C142.5,698.3 142.7,710.8 144.0,717.0 C145.3,723.2 148.7,725.8 150.0,730.0 C151.3,734.2 150.3,738.3 152.0,742.0 C153.7,745.7 157.7,749.7 160.0,752.0 C162.3,754.3 163.8,755.2 166.0,756.0 C168.2,756.8 170.7,756.3 173.0,757.0 C175.3,757.7 179.0,758.3 180.0,760.0 C181.0,761.7 180.7,765.5 179.0,767.0 C177.3,768.5 172.8,768.5 170.0,769.0 C167.2,769.5 165.0,771.0 162.0,770.0 C159.0,769.0 155.0,765.5 152.0,763.0 C149.0,760.5 145.7,758.0 144.0,755.0 C142.3,752.0 143.3,748.3 142.0,745.0 C140.7,741.7 137.8,739.2 136.0,735.0 C134.2,730.8 132.5,725.8 131.0,720.0 C129.5,714.2 128.0,705.8 127.0,700.0 C126.0,694.2 125.2,690.0 125.0,685.0 C124.8,680.0 126.3,674.2 126.0,670.0 C125.7,665.8 123.7,662.5 123.0,660.0 C122.3,657.5 122.2,656.9 122.0,654.7 C121.8,652.5 123.2,649.8 122.0,646.7 C120.8,643.6 116.6,639.1 114.7,636.0 C112.8,632.9 111.6,631.0 110.7,628.0 C109.8,625.0 109.4,620.9 109.3,618.0 C109.2,615.1 109.3,612.9 110.0,610.7 C110.7,608.5 111.1,606.9 113.3,604.7 C115.5,602.5 118.8,598.8 123.3,597.3 C127.8,595.8 135.9,595.4 140.0,595.7 C144.1,596.0 145.6,596.9 148.0,599.3 C150.4,601.7 153.8,607.0 154.7,610.0 C155.6,613.0 154.2,615.2 153.3,617.3 C152.4,619.4 151.0,622.4 149.3,622.7Z" fill="#c4ecfa" stroke="#1d2e36" stroke-width="1.6" stroke-linecap="round" stroke-linejoin="round" /><line x1="111.3" y1="610.7" x2="124.7" y2="616.7" stroke="#1d2e36" stroke-width="1.5"/><line x1="140" y1="596" x2="137.3" y2="611.3" stroke="#1d2e36" stroke-width="1.5"/><line x1="110.7" y1="628" x2="124.7" y2="624" stroke="#1d2e36" stroke-width="1.5"/><line x1="122" y1="646.7" x2="133.3" y2="644.7" stroke="#1d2e36" stroke-width="1.5"/><line x1="126" y1="668" x2="139" y2="670" stroke="#1d2e36" stroke-width="1.5"/><line x1="127" y1="693" x2="142" y2="694" stroke="#1d2e36" stroke-width="1.5"/><line x1="131" y1="720" x2="144" y2="717" stroke="#1d2e36" stroke-width="1.5"/><line x1="142" y1="745" x2="152" y2="742" stroke="#1d2e36" stroke-width="1.5"/><path d="M142.7,614.7 C143.2,613.2 145.1,607.8 146.0,606.0 C146.9,604.2 146.6,603.3 148.0,604.0 C149.4,604.7 153.6,609.0 154.7,610.0" fill="none" stroke="#1d2e36" stroke-width="1.5" stroke-linecap="round" stroke-linejoin="round" /><circle cx="161" cy="754" r="2.6" fill="#1d2e36"/><circle cx="167" cy="762.5" r="4" fill="#e6f6fb" stroke="#1d2e36" stroke-width="1.2"/><circle cx="175" cy="761.5" r="4" fill="#e6f6fb" stroke="#1d2e36" stroke-width="1.2"/></g>
<circle cx="136.7" cy="685.6" r="4.5" fill="#050505"/>
<g id="egg"><ellipse cx="719.8" cy="1096" rx="50.8" ry="75" fill="#d3ecf4" stroke="#3a5b66" stroke-width="2" transform="rotate(2 719.8 1096)"/><ellipse cx="719.8" cy="1096" rx="47.2" ry="71.2" fill="#40626e" stroke="#3a5b66" stroke-width="1.4" transform="rotate(2 719.8 1096)"/><path d="M679.7,1062.9 L683.7,1063.9 L685.7,1062.4 L684.3,1056.6 L682.7,1055.7Z M747.9,1105.5 L748.9,1107.0 L752.3,1107.4 L754.4,1104.2 L752.7,1101.5 L749.0,1101.7Z M686.5,1088.5 L687.2,1086.7 L682.4,1082.9 L679.8,1086.1 L681.1,1089.0Z M717.7,1046.5 L715.2,1048.2 L715.2,1053.1 L718.3,1054.3 L719.3,1053.6 L720.3,1049.8Z M738.1,1043.2 L740.0,1045.0 L743.9,1043.9 L744.2,1040.7 L740.4,1039.5 L738.4,1041.0Z M716.0,1095.7 L715.4,1093.8 L711.4,1092.6 L709.3,1096.5 L710.3,1098.4 L714.3,1098.5Z M716.2,1108.4 L715.7,1105.6 L710.4,1106.1 L709.8,1108.6 L712.0,1110.2Z M699.1,1120.8 L702.5,1120.6 L702.4,1116.4 L700.2,1115.6 L697.7,1118.5Z M734.6,1069.7 L738.3,1067.2 L737.9,1064.3 L735.5,1062.5 L732.5,1064.2 L733.6,1069.1Z M702.0,1066.7 L698.4,1066.1 L696.0,1068.6 L698.0,1072.2 L700.2,1072.4 L702.6,1070.2Z M759.1,1111.4 L759.8,1110.9 L758.8,1105.1 L755.6,1105.0 L753.6,1108.2 L754.6,1110.3Z M720.3,1131.3 L717.3,1129.6 L715.2,1131.5 L716.4,1135.0 L720.2,1135.2Z M710.3,1035.3 L707.1,1034.7 L704.8,1038.8 L709.1,1041.2 L711.5,1039.3Z M730.9,1156.7 L732.2,1157.6 L737.2,1155.3 L736.9,1153.4 L734.1,1151.9 L730.7,1155.6Z M692.8,1108.6 L690.0,1108.5 L687.7,1112.0 L689.1,1114.0 L692.0,1114.1 L694.0,1111.2Z M701.9,1133.0 L702.3,1128.5 L697.6,1127.6 L696.5,1130.8 L700.3,1133.3Z M740.0,1051.7 L739.9,1055.9 L743.4,1057.5 L745.3,1054.7 L744.0,1052.1Z M746.4,1119.9 L748.7,1122.9 L751.3,1122.6 L752.6,1118.5 L750.9,1116.3 L748.5,1116.2Z M741.2,1145.9 L741.5,1145.3 L740.2,1140.6 L736.4,1139.9 L735.7,1140.5 L735.8,1144.8Z M711.6,1138.2 L712.7,1138.4 L715.0,1135.5 L713.8,1131.9 L710.8,1131.5 L709.4,1133.7Z M750.1,1080.0 L754.4,1082.0 L757.8,1079.8 L758.0,1079.1 L755.9,1075.7 L752.4,1075.7Z M712.6,1040.3 L709.9,1042.5 L709.7,1045.8 L714.3,1047.0 L716.7,1045.4 L714.8,1040.9Z M746.0,1064.5 L745.7,1063.1 L744.2,1061.9 L739.4,1064.4 L739.8,1067.1 L742.4,1068.4Z M763.3,1069.9 L761.7,1064.2 L756.0,1066.1 L758.4,1070.7Z M728.5,1077.7 L724.9,1080.1 L724.7,1082.5 L727.3,1084.9 L731.3,1081.8 L729.7,1078.2Z M732.0,1050.1 L727.7,1050.3 L727.6,1056.3 L731.7,1055.1 L732.7,1051.0Z M688.3,1126.6 L684.4,1126.9 L683.1,1130.1 L686.4,1132.5 L687.5,1132.2 L689.2,1129.0Z M741.7,1104.9 L746.5,1104.9 L747.6,1101.1 L746.2,1099.5 L742.7,1100.0 L741.1,1103.1Z M749.7,1047.4 L752.4,1051.6 L755.9,1050.4 L752.6,1045.0Z M758.8,1117.7 L762.5,1121.1 L764.4,1112.6 L760.8,1112.1 L759.9,1112.6Z M727.4,1164.9 L732.9,1162.7 L731.5,1158.9 L730.2,1158.1 L726.3,1160.9Z M743.8,1133.9 L744.4,1136.5 L747.9,1137.9 L750.5,1136.3 L750.3,1132.5 L746.4,1130.7Z M675.6,1077.1 L682.0,1078.6 L682.1,1072.9 L676.9,1071.7Z M695.5,1146.5 L696.5,1151.2 L700.7,1151.2 L702.0,1148.4 L698.8,1144.3Z M677.3,1070.2 L682.6,1071.4 L684.1,1070.1 L683.3,1065.4 L679.2,1064.3Z M722.2,1146.7 L725.2,1142.9 L721.9,1140.2 L719.4,1142.7 L720.8,1146.5Z M694.6,1104.7 L694.2,1102.4 L690.3,1101.0 L688.2,1102.0 L687.7,1103.5 L690.1,1107.0 L692.9,1107.1Z M731.6,1029.0 L734.3,1033.6 L739.6,1031.7 L732.0,1027.7Z M737.1,1076.1 L735.3,1074.8 L731.2,1077.8 L732.8,1081.5 L733.7,1081.8 L737.4,1079.1Z M729.2,1114.9 L727.8,1115.8 L728.2,1120.0 L731.6,1121.6 L733.4,1119.3 L732.9,1116.0Z M738.4,1094.4 L738.7,1093.6 L735.7,1089.5 L732.2,1091.3 L732.0,1094.4 L735.1,1096.1Z M726.0,1049.6 L721.7,1050.3 L720.8,1053.6 L725.8,1055.0Z M718.1,1044.9 L722.7,1041.8 L722.0,1039.0 L719.2,1037.9 L716.3,1040.5Z M721.0,1101.9 L721.1,1097.8 L717.2,1096.7 L715.6,1099.3 L717.2,1102.9Z M742.6,1081.9 L742.7,1084.9 L744.6,1086.5 L746.9,1086.0 L748.9,1081.0 L745.6,1079.8Z M673.5,1099.4 L678.5,1099.6 L680.6,1096.9 L678.8,1093.7 L673.6,1093.9Z M690.5,1129.9 L689.0,1132.7 L692.3,1135.2 L694.9,1130.7Z M708.2,1076.5 L704.2,1079.2 L706.1,1082.3 L709.9,1082.1 L711.0,1078.1Z M759.1,1078.1 L764.6,1076.4 L763.6,1071.4 L758.5,1072.2 L757.2,1074.9Z M703.4,1077.9 L707.3,1075.3 L706.9,1072.4 L703.6,1071.4 L701.4,1073.4Z M717.4,1033.4 L714.3,1032.4 L711.8,1034.9 L713.0,1038.9 L715.2,1039.4 L718.2,1036.8Z M725.4,1159.7 L729.4,1156.8 L729.2,1155.7 L725.6,1152.9 L722.7,1155.5 L723.2,1158.7Z M726.9,1134.3 L724.9,1129.7 L721.8,1131.3 L722.0,1136.1Z M742.9,1144.6 L747.2,1143.5 L747.2,1139.2 L744.0,1137.9 L741.7,1140.1Z M751.0,1067.1 L754.7,1065.5 L752.6,1060.1 L747.3,1063.1 L747.5,1064.3Z M717.0,1076.8 L719.4,1075.9 L720.5,1073.0 L718.1,1069.3 L717.4,1069.2 L715.0,1070.6 L715.3,1076.1Z M701.0,1105.7 L702.4,1103.0 L700.9,1100.2 L697.5,1100.1 L695.7,1102.1 L696.0,1104.3Z M700.6,1114.2 L703.1,1115.0 L704.9,1114.1 L705.4,1110.7 L702.0,1108.9 L699.7,1112.2Z M729.2,1041.6 L729.9,1038.5 L726.3,1036.3 L723.5,1038.7 L724.2,1041.7 L726.1,1042.8Z M711.3,1082.6 L712.9,1084.5 L716.8,1084.3 L716.3,1078.1 L714.5,1077.5 L712.5,1078.3Z M737.7,1039.7 L739.5,1038.3 L739.3,1033.5 L734.5,1035.1 L733.8,1036.8Z M687.7,1100.6 L689.5,1099.7 L690.3,1094.4 L688.4,1093.3 L684.4,1097.1Z M711.4,1117.3 L710.2,1117.7 L708.7,1121.2 L711.0,1123.7 L713.9,1122.9 L714.2,1121.6Z M697.1,1045.3 L698.6,1051.2 L701.2,1050.9 L702.8,1047.2 L700.3,1044.4Z M689.5,1063.8 L686.7,1063.5 L684.7,1065.1 L685.6,1069.8 L688.9,1070.3 L691.4,1068.0Z M704.6,1058.5 L710.2,1058.3 L710.9,1055.2 L708.3,1053.6 L705.0,1054.7Z M715.9,1155.2 L715.5,1159.1 L718.3,1161.1 L721.7,1158.9 L721.2,1155.8 L717.2,1154.2Z M689.6,1084.6 L689.8,1078.9 L683.6,1079.1 L683.1,1079.7 L683.1,1081.5 L688.1,1085.6Z M734.5,1150.5 L737.5,1152.0 L740.9,1148.9 L740.8,1147.3 L735.3,1146.2 L733.7,1147.7Z M727.0,1143.5 L723.5,1147.5 L725.7,1150.3 L729.5,1146.9Z M674.0,1108.3 L674.9,1115.2 L678.1,1114.2 L677.4,1108.5Z M691.8,1136.7 L687.9,1133.7 L686.8,1134.0 L685.2,1138.5 L690.2,1139.7 L691.9,1137.5Z M761.3,1110.6 L764.7,1111.1 L765.6,1103.9 L761.6,1103.4 L760.2,1104.6Z M713.7,1141.9 L712.5,1139.9 L711.3,1139.6 L707.7,1141.7 L708.3,1146.5 L709.3,1147.2 L712.0,1146.2Z M691.9,1122.5 L696.4,1124.4 L697.8,1121.6 L696.3,1119.1 L694.6,1118.8Z M714.1,1069.3 L716.4,1068.0 L714.7,1062.8 L712.6,1062.4 L710.3,1065.6 L711.2,1068.6Z M741.9,1069.9 L739.1,1068.5 L735.5,1070.9 L735.9,1073.5 L737.9,1074.9 L742.9,1072.7Z M710.1,1138.6 L708.1,1134.5 L704.5,1135.0 L705.1,1139.6 L706.8,1140.5Z M718.3,1141.7 L721.1,1138.9 L721.1,1137.2 L720.6,1136.7 L716.1,1136.5 L713.9,1139.3 L715.0,1141.1Z M725.3,1044.1 L723.6,1043.1 L719.2,1046.0 L721.4,1048.8 L725.4,1048.2Z M712.5,1147.6 L710.1,1148.5 L710.4,1152.5 L715.0,1154.0 L716.3,1153.0 L716.5,1150.0Z M719.1,1162.4 L719.1,1166.2 L726.0,1165.3 L724.8,1161.2 L722.6,1160.1Z M741.2,1120.9 L740.7,1125.1 L745.5,1127.1 L747.4,1123.8 L745.1,1120.8Z M720.7,1118.3 L723.4,1122.2 L726.7,1120.1 L726.3,1116.0 L724.5,1115.6Z M752.7,1123.1 L754.5,1124.7 L760.2,1121.4 L757.7,1118.7 L754.0,1119.0Z M727.8,1101.1 L727.3,1097.4 L724.4,1096.4 L722.6,1097.6 L722.4,1102.1 L724.6,1103.6Z M727.6,1071.8 L729.0,1076.3 L730.1,1076.7 L734.4,1073.6 L734.0,1071.1 L732.8,1070.4Z M734.8,1109.5 L732.9,1108.1 L730.0,1109.7 L729.8,1113.5 L733.4,1114.5 L734.9,1113.2Z M745.0,1087.9 L744.2,1091.4 L747.5,1093.9 L749.8,1092.7 L750.1,1089.7 L747.3,1087.4Z M677.8,1107.0 L680.0,1105.6 L678.3,1101.1 L673.6,1100.9 L673.9,1106.8Z M753.7,1117.5 L757.4,1117.2 L758.3,1112.7 L754.4,1111.8 L752.2,1115.5Z M728.1,1087.5 L731.6,1089.9 L735.5,1087.5 L733.3,1083.2 L732.4,1082.9 L728.1,1086.2Z M708.8,1127.3 L709.9,1124.7 L707.6,1122.1 L704.7,1122.6 L704.5,1126.7Z M759.2,1088.4 L761.3,1085.5 L758.2,1081.3 L755.3,1083.2 L755.5,1087.0 L758.2,1088.6Z M691.6,1078.2 L691.1,1084.5 L695.6,1085.7 L696.6,1085.0 L697.3,1081.4 L693.8,1078.0Z M738.7,1050.3 L739.0,1046.1 L737.2,1044.4 L733.9,1045.7 L733.1,1049.1 L733.9,1050.1Z M721.6,1110.8 L719.1,1110.9 L718.3,1114.7 L720.1,1116.9 L723.4,1114.5Z M751.0,1088.5 L754.0,1087.0 L753.8,1083.4 L750.2,1081.9 L748.3,1086.4Z M715.9,1103.8 L714.2,1100.0 L710.3,1099.9 L709.1,1102.8 L710.2,1104.6Z M699.8,1160.2 L702.7,1156.0 L700.7,1152.7 L696.2,1152.7 L693.8,1155.3Z M702.7,1095.7 L701.8,1093.6 L696.0,1093.3 L697.7,1098.6 L701.0,1098.7Z M688.7,1107.7 L686.6,1104.5 L682.4,1106.4 L685.3,1111.1 L686.4,1111.2Z M675.2,1116.7 L676.5,1122.7 L680.9,1121.8 L681.9,1119.7 L680.0,1115.8 L679.0,1115.5Z M753.2,1058.7 L758.8,1056.4 L756.6,1051.7 L752.6,1053.1 L751.6,1055.0Z M714.3,1124.3 L711.3,1125.1 L710.0,1128.1 L710.9,1130.0 L714.1,1130.5 L716.4,1128.4 L716.4,1126.6Z M741.8,1086.1 L736.9,1088.0 L739.8,1092.6 L742.7,1091.2 L743.5,1087.6Z M732.8,1124.1 L738.4,1125.7 L739.1,1125.2 L739.6,1121.2 L734.5,1120.3 L732.6,1122.7Z M707.3,1120.6 L708.7,1117.4 L705.5,1115.5 L703.9,1116.3 L704.0,1121.0Z M725.9,1127.4 L730.4,1126.2 L731.4,1124.6 L731.1,1123.0 L727.6,1121.4 L724.1,1123.5Z M723.0,1066.2 L719.6,1068.8 L721.7,1072.1 L726.3,1071.1 L724.9,1066.9Z M709.9,1153.9 L707.7,1156.2 L710.4,1160.5 L714.0,1158.9 L714.4,1155.3Z M690.1,1047.6 L695.5,1044.7 L692.5,1040.6 L688.0,1046.4Z M696.9,1058.6 L696.5,1053.5 L692.0,1053.4 L691.0,1055.0 L693.3,1059.3 L696.3,1059.3Z M727.9,1096.1 L730.5,1094.4 L730.7,1091.2 L727.4,1088.8 L724.6,1091.3 L725.0,1095.0Z M744.9,1060.5 L746.5,1061.8 L751.6,1058.9 L750.2,1055.7 L746.6,1055.5 L744.5,1058.6Z M754.8,1088.3 L751.6,1089.8 L751.3,1092.8 L755.2,1095.2 L757.2,1089.7Z M751.3,1137.6 L748.7,1139.1 L748.7,1143.7 L751.4,1145.8 L755.2,1139.5Z M756.7,1095.5 L759.9,1096.7 L763.3,1094.0 L759.4,1089.9 L758.7,1090.0Z M732.2,1106.8 L732.2,1103.7 L728.7,1102.3 L725.4,1104.9 L725.6,1106.3 L729.3,1108.3Z M688.9,1091.9 L691.3,1093.2 L694.8,1092.5 L695.0,1087.1 L690.5,1085.9 L688.7,1087.0 L687.9,1089.2Z M702.9,1040.2 L701.4,1043.4 L704.0,1046.3 L708.2,1046.0 L708.4,1042.6 L703.7,1039.9Z M687.0,1147.0 L690.3,1144.6 L689.8,1141.1 L684.4,1139.8 L683.1,1140.5Z M764.7,1094.8 L760.9,1097.8 L761.9,1102.0 L765.7,1102.4 L766.1,1094.9Z M710.2,1091.6 L709.9,1091.0 L704.7,1089.5 L703.1,1092.9 L704.0,1095.1 L708.0,1095.6Z M746.6,1128.1 L746.9,1129.2 L750.9,1131.2 L754.1,1128.9 L753.7,1126.0 L751.6,1124.1 L748.8,1124.4Z M752.6,1100.0 L754.2,1096.4 L750.4,1094.0 L748.0,1095.3 L747.3,1098.5 L748.7,1100.2Z M734.7,1139.3 L735.5,1138.7 L735.6,1133.4 L733.1,1132.9 L729.6,1135.3 L730.8,1138.6Z M731.8,1126.9 L733.5,1131.4 L736.2,1132.0 L736.9,1131.6 L737.7,1127.1 L732.5,1125.6Z M726.5,1057.4 L726.0,1056.6 L720.1,1054.9 L719.2,1055.5 L719.3,1059.4 L721.9,1060.7Z M761.2,1062.8 L759.3,1057.8 L754.2,1060.0 L755.9,1064.6Z M681.6,1080.0 L675.3,1078.5 L674.4,1084.4 L678.6,1085.1 L681.6,1081.6Z M696.5,1091.8 L701.8,1092.1 L703.2,1088.1 L697.4,1086.2 L696.5,1086.9Z M701.1,1161.0 L708.3,1164.5 L709.3,1161.5 L706.3,1156.8 L704.0,1156.8Z M709.6,1130.7 L708.7,1128.8 L704.0,1128.2 L703.4,1133.3 L708.1,1133.0Z M673.7,1092.4 L678.7,1092.2 L679.8,1089.8 L678.4,1086.6 L674.2,1085.9Z M734.4,1115.7 L734.9,1118.9 L740.2,1119.7 L739.7,1115.4 L735.9,1114.4Z M746.3,1047.3 L744.4,1045.3 L740.5,1046.4 L740.3,1050.2 L744.1,1050.6Z M711.2,1111.5 L708.9,1109.8 L706.9,1110.7 L706.4,1114.2 L709.8,1116.2 L711.2,1115.8Z M715.1,1061.4 L717.8,1059.5 L717.7,1055.6 L714.5,1054.4 L712.4,1055.4 L711.6,1058.9 L712.7,1060.9Z M690.5,1121.8 L693.4,1118.0 L692.0,1115.6 L689.2,1115.5 L687.8,1118.9Z M703.5,1059.5 L698.0,1059.6 L697.5,1060.2 L698.8,1064.6 L702.4,1065.3 L703.6,1064.1Z M743.2,1111.7 L745.6,1111.9 L747.6,1107.7 L746.6,1106.4 L741.7,1106.4 L741.3,1107.3Z M755.6,1128.7 L759.4,1130.6 L762.1,1122.6 L761.5,1122.4 L755.2,1126.0Z M694.6,1069.2 L692.6,1068.9 L690.0,1071.3 L691.7,1076.7 L693.6,1076.5 L696.6,1072.8Z M691.9,1059.9 L689.8,1055.9 L685.9,1056.6 L687.1,1062.0 L689.7,1062.3Z M726.2,1128.8 L728.5,1134.1 L732.0,1131.8 L730.5,1127.7Z M697.8,1073.7 L695.0,1077.2 L698.2,1080.2 L702.0,1078.5 L699.9,1073.9Z M742.5,1098.5 L745.9,1098.0 L746.6,1095.1 L743.3,1092.6 L740.1,1094.1 L739.9,1094.8Z M717.7,1110.4 L716.9,1109.7 L712.7,1111.6 L713.0,1114.7 L716.8,1114.2Z M713.1,1086.0 L711.2,1090.3 L711.6,1091.1 L715.7,1092.3 L718.3,1089.0 L717.4,1085.7Z M701.0,1107.8 L700.8,1107.2 L695.7,1105.8 L694.2,1107.9 L695.4,1110.6 L698.6,1111.3Z M694.7,1094.0 L691.8,1094.6 L691.1,1099.7 L694.6,1101.0 L696.3,1099.2Z M755.7,1096.7 L753.9,1100.7 L755.7,1103.5 L759.1,1103.6 L760.5,1102.4 L759.4,1098.1Z M750.3,1054.2 L751.2,1052.5 L748.3,1047.9 L747.7,1047.9 L745.4,1051.5 L746.7,1054.0Z M690.9,1123.7 L689.6,1125.9 L690.6,1128.4 L695.1,1129.2 L696.4,1126.7 L696.2,1125.9Z M693.5,1039.4 L696.7,1043.9 L700.0,1042.9 L701.5,1039.7 L697.1,1035.9Z M709.3,1047.3 L709.2,1052.3 L711.8,1054.0 L713.7,1053.1 L713.7,1048.3Z M752.0,1136.2 L755.9,1138.2 L758.8,1132.0 L755.0,1130.1 L751.8,1132.4Z M731.3,1095.7 L728.8,1097.3 L729.3,1100.9 L732.8,1102.4 L734.2,1101.2 L734.4,1097.4Z M709.7,1165.0 L717.6,1166.2 L717.6,1162.4 L714.6,1160.3 L710.8,1162.0Z M725.4,1035.1 L725.3,1033.0 L721.9,1030.7 L718.8,1033.2 L719.6,1036.5 L722.5,1037.6Z M680.9,1106.8 L678.8,1108.2 L679.6,1114.1 L680.4,1114.4 L683.9,1111.6Z M741.6,1119.2 L745.1,1119.3 L747.2,1115.4 L745.6,1113.4 L743.0,1113.2 L741.1,1115.0Z M749.1,1071.3 L750.0,1068.3 L746.8,1065.8 L743.4,1069.5 L744.2,1072.0Z M711.4,1061.6 L710.4,1059.8 L705.0,1059.9 L705.1,1063.7 L709.1,1064.6Z M709.7,1068.9 L708.8,1066.1 L704.6,1065.2 L703.4,1066.3 L704.0,1069.9 L707.4,1071.0Z M747.6,1046.4 L748.5,1046.4 L751.7,1043.8 L747.9,1038.9 L745.8,1040.6 L745.4,1044.2Z M682.3,1122.4 L684.3,1125.4 L688.3,1125.1 L689.6,1122.9 L686.6,1119.9 L683.3,1120.4Z M713.8,1076.1 L713.5,1070.7 L710.8,1070.0 L708.4,1072.1 L708.8,1075.2 L711.9,1076.9Z M691.0,1048.8 L692.1,1051.9 L697.2,1051.7 L695.8,1046.3Z M724.1,1106.6 L723.9,1104.9 L721.5,1103.3 L717.1,1104.9 L717.7,1108.4 L718.8,1109.4 L721.8,1109.3Z M706.2,1109.4 L708.4,1108.4 L709.0,1105.6 L707.8,1103.6 L703.7,1103.7 L702.2,1106.6 L702.4,1107.4Z M734.3,1145.1 L734.2,1140.7 L730.6,1140.0 L728.3,1142.7 L731.0,1146.4 L732.6,1146.7Z M696.5,1117.6 L699.1,1114.6 L698.4,1112.7 L695.2,1112.1 L693.3,1114.9 L694.8,1117.3Z M744.4,1073.5 L746.0,1078.4 L748.9,1079.2 L751.0,1075.1 L749.4,1072.8Z M723.5,1095.2 L723.1,1091.5 L719.4,1090.1 L716.8,1093.4 L717.5,1095.2 L721.7,1096.4Z M687.9,1148.3 L692.8,1154.2 L695.1,1151.8 L694.0,1146.7 L691.2,1145.8Z M698.8,1081.7 L698.1,1084.9 L703.4,1086.6 L704.9,1083.1 L702.8,1079.8Z M699.1,1134.3 L696.0,1132.3 L693.2,1136.5 L693.4,1137.1 L697.0,1138.1Z M734.8,1082.8 L736.6,1086.5 L741.2,1084.7 L741.1,1082.0 L738.3,1080.4Z M718.4,1084.3 L723.2,1082.3 L723.4,1080.0 L719.9,1077.3 L717.8,1078.1Z M728.5,1109.6 L725.1,1107.8 L723.0,1110.2 L724.9,1114.1 L726.9,1114.6 L728.3,1113.7Z M726.4,1151.6 L729.8,1154.3 L733.1,1150.8 L732.2,1148.2 L730.7,1147.9Z M712.2,1027.1 L705.4,1030.0 L707.2,1033.2 L710.7,1033.8 L713.3,1031.3Z M704.4,1140.9 L699.8,1143.2 L703.1,1147.4 L706.7,1146.4 L706.2,1141.8Z M739.9,1106.7 L740.4,1105.6 L739.7,1103.6 L735.2,1102.4 L733.7,1103.6 L733.7,1106.8 L735.7,1108.2Z M731.0,1064.4 L730.0,1064.1 L726.4,1066.7 L727.6,1070.3 L732.0,1069.0Z M696.8,1139.7 L693.0,1138.6 L691.2,1140.7 L691.8,1144.4 L694.5,1145.3 L698.3,1142.9Z M717.9,1126.8 L717.9,1128.2 L721.1,1130.0 L724.6,1128.2 L722.8,1124.2Z M722.5,1025.8 L722.6,1029.4 L726.0,1031.7 L730.2,1028.7 L730.6,1027.2Z M703.0,1127.0 L703.2,1122.3 L699.1,1122.3 L697.6,1125.4 L697.8,1126.1Z M702.6,1051.4 L704.5,1053.3 L707.7,1052.2 L707.8,1047.5 L704.2,1047.8Z M717.8,1152.8 L721.7,1154.4 L724.8,1151.6 L722.1,1148.2 L720.5,1148.0 L718.0,1150.0Z M736.4,1061.3 L738.7,1063.1 L743.4,1060.6 L743.0,1058.9 L739.2,1057.2 L736.5,1058.9Z M736.6,1043.0 L736.9,1041.0 L732.9,1037.9 L731.4,1038.6 L730.7,1041.8 L733.4,1044.3Z M718.4,1067.8 L722.1,1065.0 L721.4,1062.1 L718.6,1060.7 L716.1,1062.5 L717.8,1067.7Z M741.8,1080.7 L744.5,1078.7 L743.1,1074.3 L738.7,1076.2 L738.9,1079.0Z M707.9,1097.1 L703.9,1096.6 L702.3,1099.5 L703.7,1102.2 L707.7,1102.1 L709.0,1099.2Z M740.8,1032.7 L741.0,1038.1 L744.9,1039.3 L746.8,1037.8Z M732.4,1045.4 L729.7,1043.0 L726.8,1044.1 L727.0,1048.5 L731.7,1048.6Z M739.2,1127.0 L738.4,1131.6 L742.8,1132.9 L745.4,1129.6 L745.2,1128.5 L740.0,1126.5Z M762.6,1084.7 L765.6,1084.3 L764.9,1077.9 L759.4,1079.6 L759.2,1080.1Z M706.2,1083.8 L704.8,1088.0 L710.0,1089.4 L711.7,1085.4 L710.2,1083.6Z M737.1,1133.3 L737.0,1138.5 L740.6,1139.1 L743.0,1136.8 L742.4,1134.3 L737.6,1132.9Z M688.6,1071.7 L685.1,1071.2 L683.6,1072.6 L683.9,1077.6 L690.4,1077.3Z M738.7,1155.3 L740.9,1157.5 L745.5,1153.2 L741.7,1150.2 L738.4,1153.2Z M707.4,1147.8 L703.4,1148.9 L702.0,1151.9 L704.0,1155.3 L706.5,1155.3 L708.9,1152.8 L708.5,1148.4Z M721.9,1073.6 L720.9,1076.2 L724.2,1078.7 L727.5,1076.6 L726.2,1072.8Z M742.4,1148.8 L746.5,1152.1 L750.5,1147.1 L747.8,1144.9 L742.8,1146.1 L742.3,1146.9Z M681.4,1105.1 L686.3,1103.0 L686.7,1101.7 L683.0,1097.8 L681.9,1097.7 L679.7,1100.5Z M685.1,1055.3 L689.7,1054.4 L690.8,1052.6 L689.5,1049.0 L687.2,1047.7 L683.4,1054.4Z M728.9,1063.0 L726.9,1059.0 L722.9,1061.9 L723.6,1064.8 L725.4,1065.5Z M752.3,1074.2 L755.9,1074.2 L757.2,1071.5 L754.8,1067.3 L751.5,1068.6 L750.5,1071.8Z M686.3,1118.4 L687.9,1114.8 L686.4,1112.7 L685.1,1112.6 L681.5,1115.4 L683.2,1118.9Z M704.1,1030.7 L698.2,1034.9 L702.5,1038.7 L703.3,1038.5 L705.8,1033.9Z M680.1,1092.8 L682.0,1096.2 L683.1,1096.3 L687.4,1092.2 L686.6,1090.0 L681.1,1090.5Z M762.7,1086.2 L760.6,1089.0 L764.7,1093.3 L766.1,1093.4 L765.8,1085.8Z M730.8,1037.3 L732.4,1036.5 L733.1,1034.6 L730.6,1030.2 L726.8,1032.9 L726.9,1035.0Z M703.0,1134.8 L700.6,1134.8 L698.2,1139.0 L699.6,1141.4 L703.6,1139.7Z M722.6,1138.9 L726.5,1142.0 L729.4,1139.1 L727.9,1135.5 L722.6,1137.5Z M734.2,1162.0 L739.7,1158.5 L737.9,1156.6 L733.1,1158.8Z M719.4,1146.9 L718.0,1143.2 L715.0,1142.6 L713.5,1146.4 L717.2,1148.7Z M750.8,1114.8 L753.2,1110.9 L752.2,1108.9 L748.9,1108.5 L746.9,1112.6 L748.5,1114.7Z M718.9,1085.7 L719.7,1088.6 L723.6,1090.1 L726.6,1087.6 L726.6,1086.2 L723.8,1083.7Z M733.2,1055.4 L735.9,1057.6 L738.4,1056.0 L738.5,1051.8 L734.1,1051.6Z M719.2,1118.1 L717.1,1115.7 L712.6,1116.4 L715.2,1120.4Z M703.6,1054.5 L701.4,1052.4 L698.3,1052.7 L698.4,1058.1 L703.1,1058.0Z M682.5,1139.1 L683.6,1138.5 L685.4,1133.6 L682.0,1131.2 L679.4,1132.0Z M740.1,1113.9 L741.8,1112.3 L740.0,1108.3 L736.3,1109.6 L736.4,1113.0Z M719.7,1119.5 L715.7,1121.9 L715.3,1123.3 L717.3,1125.4 L722.0,1122.9Z M676.9,1124.1 L678.9,1130.6 L681.6,1129.8 L683.0,1126.3 L681.1,1123.3Z M735.8,1101.0 L739.9,1102.1 L741.3,1099.4 L738.8,1095.9 L735.9,1097.4Z M727.9,1057.7 L730.4,1062.7 L731.5,1063.0 L734.9,1061.2 L735.0,1058.8 L732.2,1056.5Z M713.6,1026.7 L714.7,1030.9 L717.9,1032.0 L721.1,1029.4 L721.0,1025.8Z M697.3,1065.1 L696.1,1060.8 L693.2,1060.8 L690.9,1063.2 L692.8,1067.4 L694.8,1067.7Z" fill="#cfe7ef"/></g>
<g id="larva"><path d="M328.8,1041.4 C331,1070 333,1100 334,1121.6 C335,1128 337,1133 341.2,1133.3 C350,1132 370,1131 380.6,1128.9 C386,1127 389,1123 390.8,1107 C390,1080 389,1060 387.9,1041.4 C387,1035 386,1030 379.1,1025.4 C370,1025 360,1028 344.2,1032 C338,1034 332,1036 328.8,1041.4 Z" fill="none" stroke="#1d2a30" stroke-width="1.8"/><path d="M341.2,1133.3 C343,1142 348,1150 366,1165.3 C375,1171 385,1172 400,1171 C417,1168 430,1160 438.9,1150.8 C448,1140 453,1125 455.5,1100 C457,1085 455,1072 448,1062 C442,1056 436,1054 431.6,1054.6 C425,1056 418,1065 413,1075 C410,1085 412,1095 411.2,1099.8 C410,1106 406,1111 400,1115 C395,1118 392,1119 390.8,1120.2" fill="none" stroke="#1d2a30" stroke-width="1.8"/><path d="M347,1018 C350,1022 354,1028 356,1034 L357.3,1044.4 C354,1038 349,1030 346,1024 Z" fill="#1a1a1a" stroke="#1a1a1a" stroke-width="1.2"/><g stroke="#1d2a30" stroke-width="1.4" fill="none"><line x1="354.4" y1="1056" x2="356.5" y2="1101"/><line x1="359.5" y1="1055" x2="364.5" y2="1102"/><line x1="361.6" y1="1056" x2="370" y2="1103"/><circle cx="356.5" cy="1103" r="1.8"/><circle cx="365" cy="1104" r="1.8"/><circle cx="370.4" cy="1105.6" r="1.8"/></g><path d="M436,1060 C436,1052 439,1045 443.5,1043" fill="none" stroke="#1d2a30" stroke-width="2"/><path d="M410,1070 L411,1081" fill="none" stroke="#1d2a30" stroke-width="2"/><g stroke="#1d2a30" stroke-width="1.4"><line x1="382" y1="1113" x2="388" y2="1112"/><line x1="382" y1="1117" x2="388" y2="1116"/><line x1="400" y1="1113" x2="405" y2="1110"/><line x1="401" y1="1117" x2="406" y2="1115"/><line x1="399" y1="1121" x2="403" y2="1123"/><line x1="347" y1="1146" x2="361" y2="1137"/><line x1="358" y1="1158" x2="368" y2="1146"/><line x1="370" y1="1167" x2="375" y2="1157"/></g></g>
<g fill="none" stroke="#0b0d10" stroke-width="2.8">
<rect x="827.8" y="235.6" width="233.8" height="79.6"/>
<rect x="303.8" y="645.5" width="148.9" height="80.1"/>
<rect x="573.9" y="675.2" width="164.8" height="80.6"/>
<rect x="288" y="895.9" width="180.6" height="79.4"/>
<rect x="643.6" y="895.5" width="146.2" height="80.2"/>
</g>
<g fill="#050608">
<path d="M268.3,258.7 L316.3,258.2 L316.3,240.5 L359.5,261.3 L316.3,283.6 L316.3,267.5 L268.3,267.8 Z"/>
<path d="M140.7,327.5 L162.7,371.3 L119.8,371.3 Z"/>
<path d="M946.3,595 L967.5,551.3 L923.8,551.3 Z"/>
<path d="M816.3,1108.5 L859.5,1087 L859.5,1130 Z"/>
<path d="M487.5,1109.9 L531,1088 L531,1131.8 Z"/>
<path d="M142.1,944.2 L165.2,988.8 L120.3,988.8 Z"/>
<path d="M530,1105.7 L623.4,1105.7 L623.4,1114.1 L530,1114.1 Z"/>
</g>
<g fill="none" stroke="#050608" stroke-width="9.5">
<path d="M930,341 C940,370 944,420 945,470 L946,556"/>
<path d="M943,883 L944,1035 C944,1085 925,1107 870,1108.5 L855,1108.5"/>
<path d="M296.5,1103.5 L205,1104 C170,1104 148,1090 142.5,1058 L142,980"/>
<line x1="141.8" y1="367.6" x2="142.3" y2="555" stroke-dasharray="8.9 8.97" stroke-width="9.3"/>
</g>
<defs><filter id="nf" x="0" y="0" width="1" height="1"><feOffset dx="0" dy="0"/></filter></defs>
<g class="t" filter="url(#nf)">
<text transform="translate(414.2,80.6) scale(0.509)" font-weight="bold" font-size="100" x="-7">Definitive host</text>
<text transform="translate(840.3,291.5) scale(0.51)" font-size="100" x="-2">Juveniles</text>
<text transform="translate(538.6,374.9) scale(0.3125)" font-weight="bold" font-size="100" x="-1">Terrestrial environment</text>
<text transform="translate(549.9,455.4) scale(0.3124)" font-weight="bold" font-size="100" x="-3">Aquatic environment</text>
<text transform="translate(316.5,701.3) scale(0.511)" font-size="100" x="-5">Cysts</text>
<text transform="translate(584.9,730.9) scale(0.505)" font-size="100" x="0">Adults</text>
<text transform="translate(35.6,845) scale(0.51)" font-weight="bold" font-size="100" x="-7">Paratenic</text>
<text transform="translate(95.4,905.3) scale(0.51)" font-weight="bold" font-size="100" x="-7">host</text>
<text transform="translate(302.1,951.9) scale(0.515)" font-size="100" x="-8">Larvae</text>
<text transform="translate(657.4,951.7) scale(0.513)" font-size="100" x="-8">Eggs</text>
</g>
</svg>
</body></html>
